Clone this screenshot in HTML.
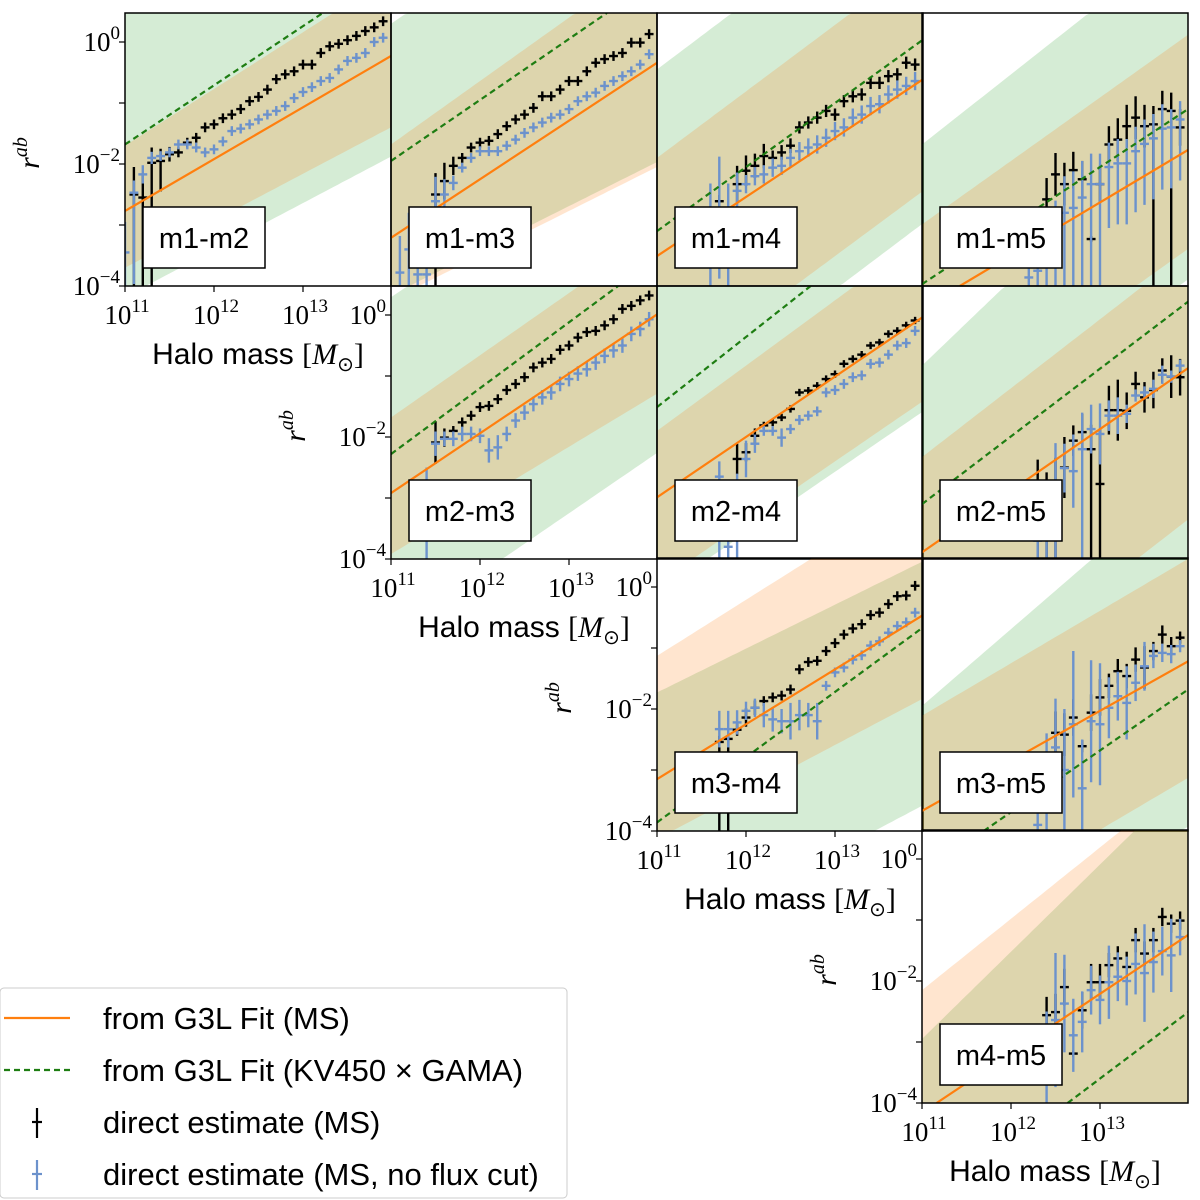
<!DOCTYPE html>
<html><head><meta charset="utf-8"><title>r_ab vs halo mass</title>
<style>
html,body{margin:0;padding:0;background:#fff;overflow:hidden;width:1200px;height:1200px;}
svg{display:block;}
.tk{font-family:"Liberation Serif",serif;font-size:27px;fill:#000;}
.sup{font-size:19px;}
.sans{font-family:"Liberation Sans",sans-serif;fill:#000;}
</style></head>
<body>
<svg id="fig" xmlns="http://www.w3.org/2000/svg" width="1200" height="1200" viewBox="0 0 1200 1200">
<g id="legend">
  <rect x="0" y="988" width="567" height="210" rx="4" fill="#fff" stroke="#ccc" stroke-width="1"/>
  <g>
    <line x1="4" y1="1018" x2="70" y2="1018" stroke="#ff7f0e" stroke-width="2.2"/>
    <text x="103" y="1029" class="sans" font-size="31">from G3L Fit (MS)</text>
  </g>
  <g>
    <line x1="4" y1="1070" x2="70" y2="1070" stroke="#1e7d12" stroke-width="2.2" stroke-dasharray="6,4"/>
    <text x="103" y="1081" class="sans" font-size="31">from G3L Fit (KV450 × GAMA)</text>
  </g>
  <g>
    <line x1="37" y1="1108" x2="37" y2="1138" stroke="#000" stroke-width="2.2"/>
    <line x1="32" y1="1122" x2="42" y2="1122" stroke="#000" stroke-width="2.2"/>
    <text x="103" y="1133" class="sans" font-size="31">direct estimate (MS)</text>
  </g>
  <g>
    <line x1="37" y1="1160" x2="37" y2="1190" stroke="#6c92cc" stroke-width="2.2"/>
    <line x1="32" y1="1174" x2="42" y2="1174" stroke="#6c92cc" stroke-width="2.2"/>
    <text x="103" y="1185" class="sans" font-size="31">direct estimate (MS, no flux cut)</text>
  </g>
</g>
</svg>
<script>
// ---- panel definitions ----
const panelNames = ["m1-m2","m1-m3","m1-m4","m1-m5","m2-m3","m2-m4","m2-m5","m3-m4","m3-m5","m4-m5"];
const panelRows = [0,0,0,0,1,1,1,2,2,3];
const panelCols = [0,1,2,3,1,2,3,2,3,3];
// fit lines: log10 r at M=1e11 and slope per decade
const orangeA = [-2.77,-3.21,-3.51,-4.37,-2.92,-2.99,-3.89,-3.15,-3.67,-4.16];
const orangeS = [0.85,0.96,0.97,0.87,0.98,0.99,1.01,0.90,0.82,0.975];
const greenA  = [-1.68,-1.95,-3.10,-3.97,-2.28,-1.51,-3.10,-3.86,-4.70,-5.80];
const greenS  = [0.97,1.00,1.05,0.96,1.08,1.15,1.11,1.07,1.01,1.10];
// uncertainty bands (edges)
const orangeHiA = [-1.70,-1.68,-1.90,-2.99,-1.68,-1.90,-2.33,-1.13,-2.11,-2.15];
const orangeHiS = [0.93,1.04,1.09,1.04,1.02,1.07,1.13,0.92,0.86,1.17];
const orangeLoA = [-3.70,-4.23,-5.67,-6.50,-3.92,-4.40,-6.73,-4.13,-5.70,-7.00];
const orangeLoS = [0.77,0.73,1.08,1.04,0.88,1.00,1.13,0.77,0.86,1.00];
const greenHiA  = [1.00,0.30,-0.45,-1.68,0.29,1.00,-0.83,-1.73,-1.95,-2.95];
const greenHiS  = [1.00,1.00,1.10,1.15,1.00,1.00,1.40,0.72,1.26,1.43];
const greenLoA  = [-4.18,-4.15,-6.26,-7.00,-5.25,-4.57,-7.50,-5.88,-6.50,-7.50];
const greenLoS  = [0.77,0.73,1.10,1.04,1.00,1.00,1.13,0.77,0.86,1.00];
// mass bins: log10 M = 11.0 + 0.1*k
const blackStart = [1,5,7,13,5,9,13,7,15,14];
const blueStart  = [0,1,6,12,4,7,13,7,13,14];
const black_m1m2 = [-2.50,-2.55,-1.98,-1.95,-1.84,-1.81,-1.65,-1.57,-1.40,-1.35,-1.25,-1.19,-1.10,-0.97,-0.90,-0.78,-0.61,-0.53,-0.48,-0.37,-0.37,-0.18,-0.07,-0.03,0.03,0.10,0.18,0.24,0.34];
const blue_m1m2  = [-3.45,-2.47,-2.17,-1.90,-1.87,-1.81,-1.68,-1.68,-1.73,-1.81,-1.76,-1.63,-1.46,-1.42,-1.35,-1.27,-1.19,-1.13,-1.05,-0.92,-0.82,-0.74,-0.64,-0.59,-0.45,-0.31,-0.26,-0.18,0.00,0.07];
const black_m1m3 = [-2.50,-2.28,-2.03,-1.90,-1.73,-1.65,-1.62,-1.51,-1.38,-1.27,-1.19,-1.08,-0.89,-0.89,-0.78,-0.64,-0.64,-0.48,-0.34,-0.28,-0.23,-0.18,-0.01,-0.01,0.13];
const blue_m1m3  = [-3.78,-3.40,-3.81,-3.81,-2.61,-2.50,-2.31,-2.06,-1.90,-1.79,-1.79,-1.79,-1.70,-1.60,-1.49,-1.40,-1.32,-1.24,-1.19,-1.10,-0.97,-0.89,-0.83,-0.72,-0.64,-0.56,-0.48,-0.37,-0.20];
const black_m1m4 = [-2.61,null,-2.33,-2.11,-2.03,-1.87,-1.90,-1.81,-1.70,-1.40,-1.32,-1.24,-1.13,-1.19,-0.97,-0.89,-0.86,-0.67,-0.67,-0.56,-0.53,-0.34,-0.37];
const blue_m1m4  = [-3.32,-2.88,-3.32,-2.44,-2.33,-2.20,-2.17,-2.06,-2.03,-1.90,-1.79,-1.73,-1.68,-1.57,-1.46,-1.40,-1.24,-1.19,-1.05,-1.02,-0.86,-0.78,-0.72,-0.64];
const black_m1m5 = [null,-2.58,-2.17,-2.33,-2.10,-2.25,-3.23,-2.33,-1.68,-1.60,-1.38,-1.24,-1.38,-1.35,-1.10,-1.13,-1.40];
const blue_m1m5  = [-3.86,-3.75,-3.32,-3.10,-2.80,-2.72,-2.55,-2.33,-2.33,-2.05,-1.99,-1.99,-1.79,-1.67,-1.58,-1.42,-1.40,-1.27];
const black_m2m3 = [-2.09,-2.01,-1.90,-1.76,-1.65,-1.51,-1.49,-1.38,-1.23,-1.13,-1.02,-0.86,-0.78,-0.72,-0.57,-0.50,-0.37,-0.28,-0.26,-0.17,-0.07,0.10,0.15,0.24,0.32];
const blue_m2m3  = [-3.30,-2.11,-2.03,-2.03,-1.95,-1.95,-1.98,-2.22,-2.17,-1.95,-1.73,-1.60,-1.46,-1.35,-1.27,-1.13,-1.05,-0.96,-0.89,-0.78,-0.67,-0.58,-0.50,-0.31,-0.23,-0.07];
const black_m2m4 = [-2.36,-2.25,-1.98,-1.81,-1.76,-1.68,-1.54,-1.27,-1.24,-1.16,-1.05,-0.97,-0.80,-0.72,-0.65,-0.50,-0.45,-0.31,-0.26,-0.17,-0.09];
const blue_m2m4  = [-2.65,-3.80,-3.20,-2.36,-2.11,-1.90,-1.90,-2.01,-1.87,-1.72,-1.65,-1.58,-1.27,-1.23,-1.13,-1.02,-0.99,-0.80,-0.78,-0.65,-0.50,-0.46,-0.26];
const black_m2m5 = [-2.77,-2.83,-2.84,-2.50,-2.06,-1.92,-2.20,-2.77,-1.56,-1.56,-1.57,-1.13,-1.35,-1.23,-0.91,-1.01,-1.02];
const blue_m2m5  = [-3.70,-3.50,-3.00,-2.51,-2.56,-2.20,-1.87,-1.95,-1.65,-1.65,-1.62,-1.32,-1.27,-1.21,-0.98,-1.01,-0.83];
const black_m3m4 = [-2.54,-2.49,-2.34,-2.14,-1.98,-1.87,-1.81,-1.78,-1.68,-1.35,-1.23,-1.21,-1.05,-0.92,-0.78,-0.68,-0.61,-0.46,-0.42,-0.28,-0.15,-0.14,0.02];
const blue_m3m4  = [-2.33,-2.33,-2.22,-2.03,-1.98,-2.10,-2.17,-2.20,-2.20,-2.10,-2.10,-2.20,-1.62,-1.40,-1.32,-1.19,-1.12,-0.96,-0.89,-0.75,-0.64,-0.58,-0.42];
const black_m3m5 = [-2.39,-2.42,-2.14,-2.61,-2.06,-1.81,-1.62,-1.38,-1.46,-1.19,-1.32,-1.05,-0.78,-0.97,-0.83];
const blue_m3m5  = [-3.90,-3.20,-2.63,-3.00,-2.25,-3.30,-2.20,-2.25,-1.98,-1.79,-1.90,-1.57,-1.30,-1.13,-1.08,-1.10,-0.97];
const black_m4m5 = [-2.56,-2.51,-2.10,-3.19,-2.48,-2.02,-2.02,-1.74,-1.63,-1.77,-1.33,-1.55,-1.33,-0.95,-1.06,-1.01];
const blue_m4m5  = [-3.30,-2.64,-2.37,-2.89,-2.67,-2.15,-2.31,-2.02,-1.93,-2.00,-1.72,-1.87,-1.69,-1.51,-1.58,-1.28];
// error half-lengths in dex: number or [down, up]
const blackErr_m1m2 = [[3,0.45],[3,0.4],[3,0.25],[0.5,0.2],0.12];
const blueErr_m1m2  = [[1,0.5],[1.5,0.2],0.15,0.1];
const blackErr_m1m3 = [[1.6,0.35],0.3,0.15];
const blueErr_m1m3  = [[0.6,0.6],[0.6,0.6],[0.6,0.6],[0.6,0.6],0.4,0.25,0.12];
const blackErr_m1m4 = [0.1,0,0.3,0.25,0.2,0.2,0.12,0.12,0.12,0.1,0.1,0.1,0.1,0.1,0.1,0.1,0.1,0.1,0.1,0.1,0.1,0.1,0.1];
const blueErr_m1m4  = [1,1,1,0.3,0.15,0.15,0.15,0.15,0.15,0.15,0.15,0.15,0.15,0.15,0.15,0.15,0.15,0.15,0.15,0.15,0.15,0.15,0.15,0.15];
const blackErr_m1m5 = [0,0.35,0.35,0.35,0.3,0.3,0.05,0.3,0.3,0.35,0.35,0.35,0.35,[3,0.3],0.3,[3,0.3],0.3];
const blueErr_m1m5  = [[1,0.3],[1,0.4],[1,0.6],[2,0.5],[2,0.6],[2,0.6],[2,0.6],[2,0.5],[2,0.5],[1,0.4],[1,0.4],[1,0.4],[1,0.4],[1,0.4],[1,0.4],[1,0.4],[1,0.3],[1,0.3]];
const blackErr_m2m3 = [0.35,0.15];
const blueErr_m2m3  = [[1,0.8],0.2,0.12,0.12,0.12,0.12,0.12,0.2,0.2,0.12,0.12,0.12,0.12,0.12,0.12,0.12,0.12,0.12,0.12,0.12,0.12,0.12,0.12,0.12,0.12,0.12];
const blackErr_m2m4 = [0.25,0.15,0.12,0.06,0.06,0.06,0.06,0.06,0.06,0.06,0.06,0.06,0.06,0.06,0.06,0.06,0.06,0.06,0.06,0.06,0.06];
const blueErr_m2m4  = [[2,0.25],[1,0.4],[1,0.6],0.3,0.15,0.08,0.08,0.15,0.08];
const blackErr_m2m5 = [[2,0.4],[2,0.25],[2,0.5],0.5,0.25,0.3,[2,0.4],[2,0.9],0.4,0.5,0.3,0.2,0.25,0.3,0.2,0.35,0.3];
const blueErr_m2m5  = [[1,0.5],[1,0.6],[1,0.9],0.4,0.6,[2,0.6],0.4,0.5,0.25,0.3,0.15,0.1,0.1,0.15,0.15,0.1,0.1];
const blackErr_m3m4 = [[2,0.1],[2,0.1],0.1,0.15,0.12];
const blueErr_m3m4  = [0.3,0.3,0.2,0.15,0.15,0.2,0.2,0.2,0.3,0.25,0.2,0.3];
const blackErr_m3m5 = [0.35,0.35,0.3,0.1,0.3,0.3,0.2,0.2,0.2,0.2,0.35,0.15,0.15,0.15,0.1];
const blueErr_m3m5  = [[1,0.5],[1,0.8],0.8,[1,1],1.2,[1,0.8],1.0,1.0,0.5,0.4,0.6,0.3,0.4,0.2,0.15,0.15,0.1];
const blackErr_m4m5 = [0.3,0.3,0.3,0.05,0.3,0.3,0.3,0.2,0.2,0.25,0.2,0.2,0.2,0.15,0.15,0.15];
const blueErr_m4m5  = [[1,0.8],1.1,0.8,0.6,0.5,0.4,0.4,0.6,0.4,0.4,0.5,0.8,0.5,0.4,0.6,0.3];

const blackVals = [black_m1m2,black_m1m3,black_m1m4,black_m1m5,black_m2m3,black_m2m4,black_m2m5,black_m3m4,black_m3m5,black_m4m5];
const blueVals  = [blue_m1m2,blue_m1m3,blue_m1m4,blue_m1m5,blue_m2m3,blue_m2m4,blue_m2m5,blue_m3m4,blue_m3m5,blue_m4m5];
const blackErrs = [blackErr_m1m2,blackErr_m1m3,blackErr_m1m4,blackErr_m1m5,blackErr_m2m3,blackErr_m2m4,blackErr_m2m5,blackErr_m3m4,blackErr_m3m5,blackErr_m4m5];
const blueErrs  = [blueErr_m1m2,blueErr_m1m3,blueErr_m1m4,blueErr_m1m5,blueErr_m2m3,blueErr_m2m4,blueErr_m2m5,blueErr_m3m4,blueErr_m3m5,blueErr_m4m5];
const xTickVals = [11,12,13];
const yTickVals = [0,-2,-4];

// ---- layout ----
const NS = "http://www.w3.org/2000/svg";
const colX = [125,391,657,922];
const rowTop = [13,286,558,830];
const PW = 266, PH = 273, PXD = 89, PYD = 61;
const LMAX = 11 + PW/PXD, LYMIN = -4, LYMAX = PH/PYD - 4;
function xs(c,lm){return colX[c]+(lm-11)*PXD;}
function ys(r,ly){return rowTop[r]+PH-(ly+4)*PYD;}
function clampY(v){return Math.max(LYMIN,Math.min(LYMAX,v));}
function mk(tag,attrs,parent){const e=document.createElementNS(NS,tag);for(const k in attrs)e.setAttribute(k,attrs[k]);parent.appendChild(e);return e;}
const svg = document.getElementById('fig');
const legend = document.getElementById('legend');

function addPow(parent, x, y, exp, anchor){
  const t = mk('text',{x:x,y:y,'text-anchor':anchor,'class':'tk'},parent);
  t.appendChild(document.createTextNode('10'));
  const s = mk('tspan',{'class':'sup',dy:-12},t);
  s.textContent = exp;
  return t;
}

panelNames.forEach((name,i)=>{
  const r=panelRows[i], c=panelCols[i];
  const x0=colX[c], y0=rowTop[r];
  const g = mk('g',{},svg);
  
  
  svg.insertBefore(g, legend);
  const clip = mk('clipPath',{id:'clip'+i},g);
  mk('rect',{x:x0,y:y0,width:PW,height:PH},clip);
  const inner = mk('g',{'clip-path':'url(#clip'+i+')'},g);
  function band(aLo,sLo,aHi,sHi,fill,label){
    const lo=[], hi=[];
    const N=60;
    for(let k=0;k<=N;k++){
      const lm=11+(LMAX-11)*k/N;
      lo.push(xs(c,lm).toFixed(1)+','+ys(r,clampY(aLo+sLo*(lm-11))).toFixed(1));
      hi.push(xs(c,lm).toFixed(1)+','+ys(r,clampY(aHi+sHi*(lm-11))).toFixed(1));
    }
    const pts=lo.concat(hi.reverse()).join(' ');
    const e=mk('polygon',{points:pts,fill:fill},inner);
    
    
  }
  band(greenLoA[i],greenLoS[i],greenHiA[i],greenHiS[i],'rgba(44,160,44,0.2)','band-kv450-'+name);
  band(orangeLoA[i],orangeLoS[i],orangeHiA[i],orangeHiS[i],'rgba(255,127,14,0.2)','band-ms-'+name);
  function fitLine(a,s,stroke,dash,label){
    // clip the line analytically to the panel
    let l0=11, l1=LMAX;
    const lA=11+(LYMIN-a)/s, lB=11+(LYMAX-a)/s;
    l0=Math.max(l0,Math.min(lA,lB)); l1=Math.min(l1,Math.max(lA,lB));
    if(l1<=l0) return;
    const e=mk('line',{x1:xs(c,l0),y1:ys(r,a+s*(l0-11)),x2:xs(c,l1),y2:ys(r,a+s*(l1-11)),stroke:stroke,'stroke-width':2.2},inner);
    if(dash) e.setAttribute('stroke-dasharray',dash);
    
    
  }
  function series(vals,errs,start,color,label){
    vals.forEach((v,j)=>{
      if(v===null) return;
      const lm=11+0.1*(start+j);
      let er=errs[j]; if(er===undefined) er=0.08;
      const dn=Array.isArray(er)?er[0]:er, up=Array.isArray(er)?er[1]:er;
      const cx=xs(c,lm);
      const eg=mk('g',{stroke:color,'stroke-width':2.4},inner);
      
      
      mk('line',{x1:cx,y1:ys(r,clampY(v-dn)),x2:cx,y2:ys(r,clampY(v+up))},eg);
      if(v>=LYMIN && v<=LYMAX)
        mk('line',{x1:xs(c,lm-0.05),y1:ys(r,v),x2:xs(c,Math.min(LMAX,lm+0.05)),y2:ys(r,v)},eg);
    });
  }
  series(blackVals[i],blackErrs[i],blackStart[i],'#000','direct-ms-'+name);
  series(blueVals[i],blueErrs[i],blueStart[i],'#6c92cc','direct-noflux-'+name);
  fitLine(orangeA[i],orangeS[i],'#ff7f0e',null,'fit-ms-'+name);
  fitLine(greenA[i],greenS[i],'#1e7d12','6,4','fit-kv450-'+name);
  // label box
  const by=y0+PH;
  const lb=mk('g',{},g);
  
  
  mk('rect',{x:x0+18,y:by-79,width:122,height:61,fill:'#fff',stroke:'#000','stroke-width':1.5},lb);
  const lt=mk('text',{x:x0+79,y:by-38,'text-anchor':'middle','class':'sans','font-size':29},lb);
  lt.textContent=name;
  // frame
  const fr=mk('rect',{x:x0,y:y0,width:PW,height:PH,fill:'none',stroke:'#000','stroke-width':1.5},g);
  
  
  // axes on diagonal panels
  if(r===c){
    const ax=mk('g',{},g);
    
    
    for(let d=-4; d<=0; d++){
      mk('line',{x1:x0-6,y1:ys(r,d),x2:x0,y2:ys(r,d),stroke:'#000','stroke-width':1.2},ax);
    }
    yTickVals.forEach(d=>{
      const t=addPow(ax,x0-5,ys(r,d)+9,String(d).replace('-','−'),'end');
      
      
    });
    xTickVals.forEach(d=>{
      mk('line',{x1:xs(c,d),y1:by,x2:xs(c,d),y2:by+6,stroke:'#000','stroke-width':1.2},ax);
      const t=addPow(ax,xs(c,d)+2,by+38,String(d),'middle');
      
      
    });
    const xl=mk('text',{x:x0+PW/2,y:by+78,'text-anchor':'middle','class':'sans','font-size':30},ax);
    
    
    xl.appendChild(document.createTextNode('Halo mass '));
    const m=mk('tspan',{'font-family':'Liberation Serif, serif'},xl);
    m.appendChild(document.createTextNode('['));
    const mi=mk('tspan',{'font-style':'italic'},m); mi.textContent='M';
    const ms=mk('tspan',{'font-size':20,dy:7},m); ms.textContent='⊙';
    const mc=mk('tspan',{dy:-7},m); mc.textContent=']';
    const yl=mk('text',{x:0,y:0,'text-anchor':'middle','font-family':'Liberation Serif, serif','font-style':'italic','font-size':30,transform:'translate('+(x0-86)+','+(y0+140)+') rotate(-90)'},ax);
    
    
    yl.appendChild(document.createTextNode('r'));
    const ys2=mk('tspan',{'font-size':20,dy:-12},yl); ys2.textContent='ab';
  }
});
</script>
</body></html>
